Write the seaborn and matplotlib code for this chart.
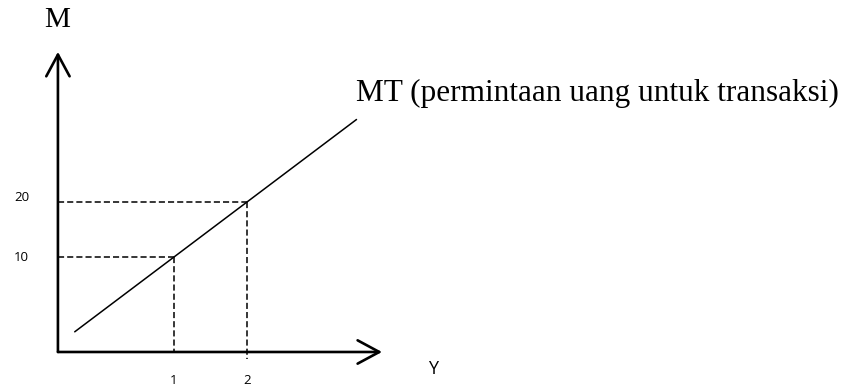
import numpy as np
import matplotlib
matplotlib.use("Agg")
import matplotlib.pyplot as plt
import seaborn as sns

# Curve MT (transaction money demand): Y vs M
mt_y_vals = [-0.36, 1, 2, 3.5]
mt_m_vals = [-3.6, 10, 20, 35.0]

# Reference points marked with dashed guides
guide_y = [1, 2]
guide_m = [10, 20]
x_ticks = ["1", "2"]
y_ticks = ["10", "20"]

# Axis frame (origin corner and arrow tips), data units
ORIGIN = (-0.59, -7.27)
X_TIP = 3.85
Y_TIP = 47.3

sns.set_theme(style="white")
plt.rcParams["font.family"] = ["Liberation Serif", "DejaVu Serif"]
plt.rcParams["text.color"] = "black"

fig = plt.figure(figsize=(8.51, 3.88), dpi=100)
ax = fig.add_axes([0, 0, 1, 1])
ax.set_xlim(-1.3836, 10.274)
ax.set_ylim(-13.818, 56.727)
ax.axis("off")

# axes with open arrow heads
arrow = dict(arrowstyle="->,head_length=1.3,head_width=0.7", lw=1.9,
             color="black", shrinkA=0, shrinkB=0)
ax.annotate("", xy=(ORIGIN[0], Y_TIP), xytext=ORIGIN, arrowprops=arrow)
ax.annotate("", xy=(X_TIP, ORIGIN[1]), xytext=ORIGIN, arrowprops=arrow)

# dashed guides
dash = dict(color="black", lw=1.1, dashes=(4, 2))
for gx, gm in zip(guide_y, guide_m):
    ax.plot([ORIGIN[0], gx], [gm, gm], **dash)
ax.plot([guide_y[0], guide_y[0]], [guide_m[0], ORIGIN[1]], **dash)
ax.plot([guide_y[1], guide_y[1]], [guide_m[1], ORIGIN[1] - 1.2], **dash)

# MT line
sns.lineplot(x=mt_y_vals, y=mt_m_vals, ax=ax, color="black", linewidth=1.1,
             sort=False)

# tick labels
sans = ["Open Sans", "DejaVu Sans"]
for gx, lab in zip(guide_y, x_ticks):
    ax.text(gx, -12.4, lab, ha="center", va="center", fontsize=9.5, family=sans)
ax.text(-1.09, 20.9, y_ticks[1], ha="center", va="center", fontsize=9.5, family=sans)
ax.text(-1.09, 10.0, y_ticks[0], ha="center", va="center", fontsize=9.5, family=sans)

# axis names and curve label
ax.text(-0.60, 53.1, "M", ha="center", va="center", fontsize=21)
ax.text(4.55, -10.3, "Y", ha="center", va="center", fontsize=13, family=sans)
ax.text(3.49, 38.4, "MT (permintaan uang untuk transaksi)", ha="left",
        va="baseline", fontsize=22.5)

fig.savefig("out.png", dpi=100)
